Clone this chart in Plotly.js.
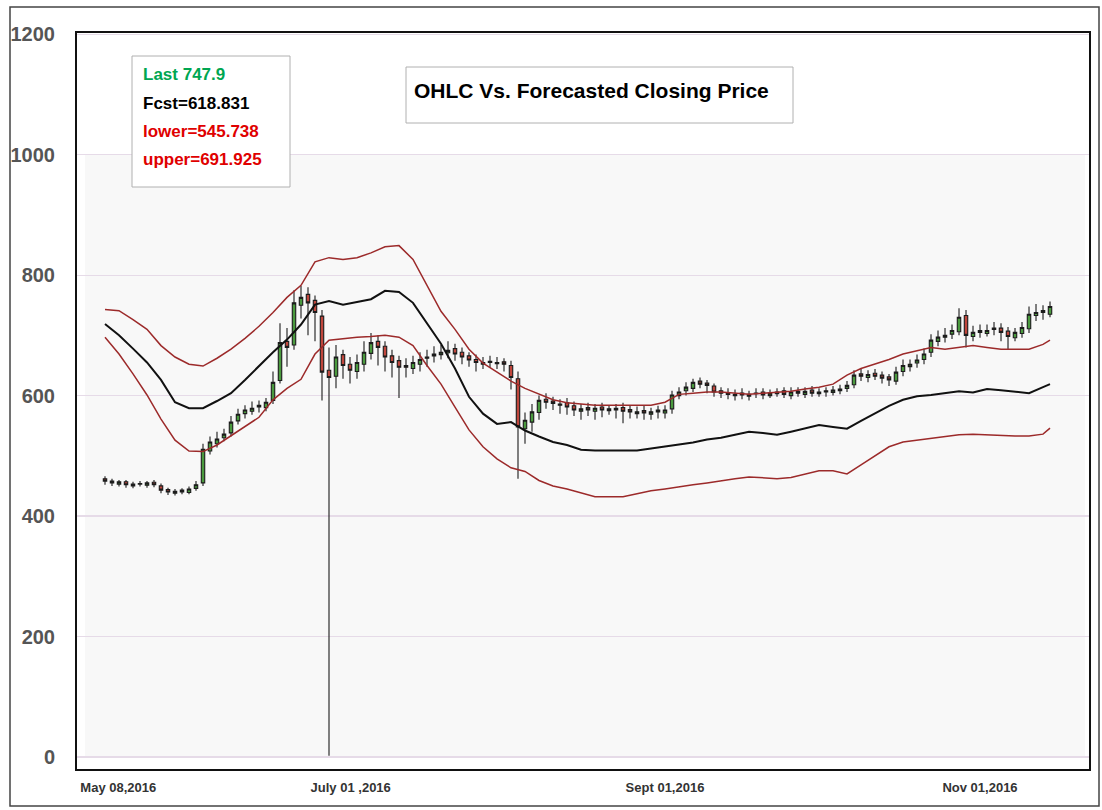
<!DOCTYPE html>
<html>
<head>
<meta charset="utf-8">
<script src="https://cdn.plot.ly/plotly-3.0.1.min.js"></script>
<style>html,body{margin:0;padding:0;background:#fff;}#chart{width:1102px;height:810px;}</style>
</head>
<body>
<div id="chart"></div>
<script>
// ---- Data (trading-session index on x) ----
const openP = [462,458,453,457,450,453,451,456,450,444,438,443,439,446,455,508,520,530,538,558,570,574,584,580,592,625,690,684,750,768,758,732,642,632,668,652,640,652,670,690,682,666,658,650,645,652,662,666,668,671,678,672,666,660,652,657,653,656,650,628,545,556,572,594,591,584,588,583,574,580,574,581,575,576,580,577,570,575,569,576,571,578,600,608,612,624,621,616,608,605,600,604,599,603,606,600,603,608,600,607,602,609,603,608,605,608,612,618,636,630,637,634,631,624,640,648,654,660,672,690,697,702,706,733,698,708,703,712,712,707,696,703,711,733,741,735];
const highP = [466,462,460,460,457,458,458,460,454,447,445,446,449,458,520,532,540,545,566,578,584,590,592,596,640,720,712,775,782,780,766,742,680,684,676,664,668,690,704,700,690,676,666,662,666,672,676,682,684,690,686,680,672,668,664,666,664,662,658,640,572,586,600,604,598,594,596,590,586,588,586,588,584,586,588,584,582,584,580,583,584,608,614,622,628,630,626,620,614,612,610,612,608,612,612,610,612,614,614,614,614,616,612,614,616,618,624,642,644,642,644,640,636,648,660,660,668,678,702,708,712,718,745,742,716,718,718,722,720,714,712,722,748,752,750,756];
const lowP  = [452,450,449,447,446,449,447,448,438,435,434,436,436,442,450,502,514,524,532,552,562,568,572,574,586,620,648,676,728,700,690,592,2,612,628,620,628,640,660,650,640,630,596,630,636,640,648,655,660,662,658,652,648,640,644,646,644,640,610,462,520,540,560,578,576,570,568,566,560,566,560,564,568,562,554,562,562,560,560,562,562,570,594,600,606,612,604,598,596,594,592,594,592,596,594,596,598,596,594,598,596,598,598,598,600,602,606,612,624,622,626,620,616,618,632,640,646,652,664,682,688,694,700,680,690,696,698,700,690,676,690,696,704,724,726,730];
const closeP = [458,455,457,452,453,454,455,452,443,440,441,440,445,452,511,523,528,536,556,569,576,579,581,589,622,688,680,754,763,754,738,639,630,664,650,642,655,672,688,680,664,655,647,647,655,660,664,669,672,675,669,664,659,655,655,655,655,652,630,548,559,573,592,589,587,586,581,576,578,576,579,576,578,579,574,573,573,571,573,573,576,601,606,614,622,619,617,606,604,602,602,601,602,604,601,604,606,602,606,604,607,604,606,606,609,611,617,634,632,635,632,629,626,639,650,652,659,669,692,697,700,708,730,700,705,705,708,710,705,698,705,713,735,738,738,748];

// forecast band (sampled every 2 sessions, last point at final session)
const fcstMid   = [719,700,678,655,626,589,579,579,591,604,626,649,672,693,718,751,757,751,756,760,774,772,754,721,686,645,598,570,553,556,542,532,523,518,510,509,509,509,509,512,515,518,522,527,530,535,540,538,535,540,545,551,548,545,558,571,583,593,599,601,604,607,605,611,609,607,604,614,619];
const fcstUpper = [743,741,726,710,683,664,652,649,662,677,695,715,738,763,783,822,829,826,829,837,847,849,826,783,740,710,677,654,639,624,612,602,593,588,586,584,584,584,584,584,589,602,604,606,606,604,602,604,606,607,611,614,619,634,645,652,660,669,675,680,677,680,683,680,677,677,677,685,692];
const fcstLower = [697,669,636,601,561,526,508,507,518,533,548,564,593,612,627,669,692,695,697,698,700,697,683,650,619,581,543,515,495,480,474,459,450,445,439,432,432,432,437,442,445,449,452,455,459,462,465,464,462,464,470,475,475,470,485,500,515,523,526,528,531,535,536,535,533,533,533,536,546];

const xTickVals = [1.9, 35.1, 80, 125];
const xTickText = ['May 08,2016', 'July 01 ,2016', 'Sept 01,2016', 'Nov 01,2016'];
const yTickVals = [0, 200, 400, 600, 800, 1000, 1200];

const infoLines = ['Last 747.9', 'Fcst=618.831', 'lower=545.738', 'upper=691.925'];
const infoColors = ['#00a651', '#000000', '#e00000', '#e00000'];
const chartTitle = 'OHLC Vs. Forecasted Closing Price';

// ---- x positions ----
const sessionX = closeP.map((_, i) => i);
const bandX = fcstMid.map((_, k) => (k === fcstMid.length - 1 ? closeP.length - 1 : 2 * k));

const FONT = '"Liberation Sans", Arial, sans-serif';

const traces = [
  {type: 'scatter', mode: 'lines', x: bandX, y: fcstUpper, line: {color: '#9c2a2a', width: 1.5}, hoverinfo: 'skip'},
  {type: 'scatter', mode: 'lines', x: bandX, y: fcstLower, line: {color: '#9c2a2a', width: 1.5}, hoverinfo: 'skip'},
  {type: 'scatter', mode: 'lines', x: bandX, y: fcstMid, line: {color: '#111111', width: 2}, hoverinfo: 'skip'},
  {type: 'candlestick', x: sessionX, open: openP, high: highP, low: lowP, close: closeP,
   whiskerwidth: 0,
   increasing: {line: {color: '#1c1c1c', width: 1.1}, fillcolor: '#4a9a3e'},
   decreasing: {line: {color: '#1c1c1c', width: 1.1}, fillcolor: '#c0463c'}}
];

function px(x) { return (x - 77) / 1012; }
function py(y) { return (769 - y) / 736; }

const shapes = [
  {type: 'rect', xref: 'paper', yref: 'y', x0: px(85), x1: px(1085), y0: 0, y1: 1000, fillcolor: '#f8f8f8', line: {width: 0}, layer: 'below'},
  {type: 'line', xref: 'paper', yref: 'y', x0: 0.01, x1: 0.99, y0: 0, y1: 0, line: {color: '#e3b3d3', width: 2}, layer: 'below'},
  {type: 'rect', xref: 'paper', yref: 'paper', x0: px(10), x1: px(1099), y0: py(806), y1: py(7), line: {color: '#444', width: 1.5}},
  {type: 'rect', xref: 'paper', yref: 'paper', x0: px(132), x1: px(290), y0: py(187), y1: py(56), fillcolor: '#ffffff', line: {color: '#b0b0b0', width: 1}},
  {type: 'rect', xref: 'paper', yref: 'paper', x0: px(406), x1: px(793), y0: py(123), y1: py(67), fillcolor: '#ffffff', line: {color: '#b0b0b0', width: 1}}
];

const infoY = [75, 103, 131, 160];
const annotations = infoLines.map((t, i) => ({
  xref: 'paper', yref: 'paper', x: px(141), y: py(infoY[i]), xanchor: 'left', yanchor: 'middle',
  text: '<b>' + t + '</b>', showarrow: false, font: {family: FONT, size: 17, color: infoColors[i]}
}));
annotations.push({
  xref: 'paper', yref: 'paper', x: px(591), y: py(91), xanchor: 'center', yanchor: 'middle',
  text: '<b>' + chartTitle + '</b>', showarrow: false, font: {family: FONT, size: 21, color: '#000'}
});

const layout = {
  width: 1102, height: 810,
  margin: {l: 77, r: 13, t: 33, b: 41},
  paper_bgcolor: '#ffffff', plot_bgcolor: '#ffffff',
  showlegend: false,
  xaxis: {
    type: 'linear', range: [-4, 140.57], rangeslider: {visible: false},
    showgrid: false, zeroline: false, showline: true, mirror: true, linecolor: '#111', linewidth: 2,
    tickmode: 'array', tickvals: xTickVals, ticktext: xTickText, ticks: '',
    ticklabelstandoff: 5,
    tickfont: {family: FONT, size: 13, color: '#333', weight: 'bold'}
  },
  yaxis: {
    range: [-20, 1202], showgrid: true, gridcolor: '#e6dbe8', gridwidth: 1.2, zeroline: false,
    showline: true, mirror: true, linecolor: '#111', linewidth: 2,
    tickmode: 'array', tickvals: yTickVals, ticks: '', ticklabelstandoff: 16,
    tickfont: {family: FONT, size: 20, color: '#555', weight: 'bold'}
  },
  shapes: shapes,
  annotations: annotations
};

Plotly.newPlot('chart', traces, layout, {staticPlot: true, displayModeBar: false});
</script>
</body>
</html>
